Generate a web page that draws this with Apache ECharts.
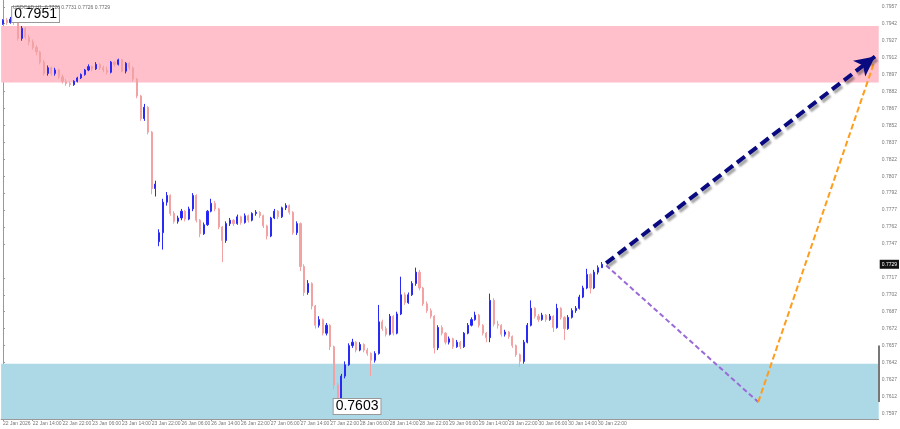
<!DOCTYPE html>
<html><head><meta charset="utf-8">
<script src="https://cdn.jsdelivr.net/npm/echarts@6/dist/echarts.min.js"></script>
<style>html,body{margin:0;padding:0;background:#fff}#c{width:900px;height:429px}</style>
</head><body><div id="c"></div>
<script>
// Hourly bars: [open, high, low, close]
const barsJan22 = [
[0.7942,0.7946,0.7941,0.7945],[0.7945,0.7947,0.7941,0.7943],[0.7943,0.7948,0.7942,0.7946],[0.7946,0.7951,0.7941,0.7944],
[0.7944,0.7945,0.7927,0.7929],[0.7929,0.7940,0.7927,0.7938],[0.7938,0.7939,0.7928,0.7930],[0.7930,0.7932,0.7923,0.7926],
[0.7926,0.7928,0.7919,0.7921],[0.7921,0.7923,0.7914,0.7917],[0.7917,0.7918,0.7906,0.7908],[0.7908,0.7910,0.7896,0.7898],
[0.7898,0.7905,0.7896,0.7903],[0.7903,0.7904,0.7896,0.7898],[0.7898,0.7903,0.7896,0.7901],[0.7901,0.7902,0.7893,0.7895],
[0.7895,0.7897,0.7889,0.7891],[0.7891,0.7893,0.7887,0.7889]];
const barsJan23 = [
[0.7889,0.7891,0.7886,0.7888],[0.7888,0.7892,0.7887,0.7891],[0.7891,0.7895,0.7890,0.7894],[0.7894,0.7898,0.7893,0.7897],
[0.7897,0.7902,0.7896,0.7901],[0.7901,0.7906,0.7900,0.7904],[0.7904,0.7905,0.7900,0.7902],[0.7902,0.7908,0.7901,0.7906],
[0.7906,0.7907,0.7901,0.7903],[0.7903,0.7905,0.7899,0.7901],[0.7901,0.7904,0.7897,0.7899],[0.7899,0.7909,0.7898,0.7908],
[0.7908,0.7909,0.7904,0.7906],[0.7906,0.7911,0.7905,0.7910],[0.7910,0.7911,0.7899,0.7900],[0.7900,0.7908,0.7898,0.7907],
[0.7907,0.7908,0.7901,0.7903],[0.7903,0.7904,0.7891,0.7893],[0.7893,0.7894,0.7876,0.7878],[0.7878,0.7879,0.7856,0.7858],
[0.7858,0.7871,0.7856,0.7868],[0.7868,0.7869,0.7844,0.7846],[0.7846,0.7847,0.7791,0.7796],[0.7796,0.7803,0.7789,0.7800]];
const barsJan26 = [
[0.7749,0.7760,0.7745,0.7757],[0.7757,0.7787,0.7742,0.7784],[0.7784,0.7793,0.7781,0.7790],[0.7790,0.7791,0.7772,0.7774],
[0.7774,0.7776,0.7765,0.7767],[0.7767,0.7772,0.7765,0.7770],[0.7770,0.7778,0.7768,0.7776],[0.7776,0.7777,0.7767,0.7769],
[0.7769,0.7780,0.7768,0.7778],[0.7778,0.7792,0.7776,0.7790],[0.7790,0.7791,0.7766,0.7768],[0.7768,0.7769,0.7753,0.7756],
[0.7756,0.7766,0.7755,0.7764],[0.7764,0.7777,0.7763,0.7776],[0.7776,0.7787,0.7775,0.7783],[0.7783,0.7785,0.7776,0.7778],
[0.7778,0.7779,0.7760,0.7762],[0.7762,0.7763,0.7731,0.7750],[0.7750,0.7767,0.7748,0.7765],[0.7765,0.7770,0.7763,0.7768],
[0.7768,0.7769,0.7763,0.7765],[0.7765,0.7773,0.7764,0.7771],[0.7771,0.7772,0.7764,0.7766],[0.7766,0.7774,0.7765,0.7772]];
const barsJan27 = [
[0.7772,0.7773,0.7766,0.7768],[0.7768,0.7775,0.7767,0.7774],[0.7774,0.7777,0.7772,0.7775],[0.7775,0.7776,0.7770,0.7772],
[0.7772,0.7773,0.7761,0.7763],[0.7763,0.7764,0.7751,0.7754],[0.7754,0.7771,0.7753,0.7770],[0.7770,0.7778,0.7769,0.7776],
[0.7776,0.7777,0.7769,0.7771],[0.7771,0.7780,0.7770,0.7779],[0.7779,0.7783,0.7777,0.7781],[0.7781,0.7782,0.7773,0.7775],
[0.7775,0.7776,0.7755,0.7757],[0.7757,0.7767,0.7755,0.7765],[0.7765,0.7766,0.7723,0.7727],[0.7727,0.7729,0.7701,0.7704],
[0.7704,0.7715,0.7702,0.7712],[0.7712,0.7713,0.7689,0.7692],[0.7692,0.7693,0.7672,0.7675],[0.7675,0.7683,0.7673,0.7680],
[0.7680,0.7681,0.7666,0.7668],[0.7668,0.7677,0.7666,0.7675],[0.7675,0.7676,0.7653,0.7656],[0.7656,0.7657,0.7618,0.7622]];
const barsJan28 = [
[0.7622,0.7624,0.7603,0.7610],[0.7610,0.7632,0.7606,0.7630],[0.7630,0.7643,0.7628,0.7640],[0.7640,0.7659,0.7639,0.7657],
[0.7657,0.7663,0.7655,0.7660],[0.7660,0.7661,0.7651,0.7653],[0.7653,0.7660,0.7652,0.7658],[0.7658,0.7659,0.7651,0.7653],
[0.7653,0.7655,0.7648,0.7650],[0.7650,0.7651,0.7630,0.7644],[0.7644,0.7652,0.7642,0.7650],[0.7650,0.7693,0.7649,0.7678],
[0.7678,0.7680,0.7670,0.7672],[0.7672,0.7674,0.7665,0.7667],[0.7667,0.7685,0.7666,0.7683],[0.7683,0.7684,0.7666,0.7668],
[0.7668,0.7687,0.7667,0.7685],[0.7685,0.7718,0.7684,0.7702],[0.7702,0.7704,0.7693,0.7695],[0.7695,0.7704,0.7694,0.7702],
[0.7702,0.7714,0.7701,0.7712],[0.7712,0.7726,0.7710,0.7722],[0.7722,0.7724,0.7706,0.7708],[0.7708,0.7709,0.7692,0.7694]];
const barsJan29 = [
[0.7694,0.7696,0.7686,0.7688],[0.7688,0.7690,0.7681,0.7683],[0.7683,0.7684,0.7650,0.7655],[0.7655,0.7675,0.7653,0.7673],
[0.7673,0.7675,0.7666,0.7668],[0.7668,0.7669,0.7658,0.7660],[0.7660,0.7665,0.7658,0.7663],[0.7663,0.7664,0.7654,0.7656],
[0.7656,0.7662,0.7655,0.7660],[0.7660,0.7661,0.7654,0.7656],[0.7656,0.7669,0.7655,0.7668],[0.7668,0.7677,0.7667,0.7675],
[0.7675,0.7682,0.7674,0.7680],[0.7680,0.7687,0.7679,0.7684],[0.7684,0.7685,0.7673,0.7675],[0.7675,0.7676,0.7666,0.7668],
[0.7668,0.7669,0.7660,0.7664],[0.7664,0.7703,0.7660,0.7697],[0.7697,0.7699,0.7674,0.7676],[0.7676,0.7679,0.7672,0.7675],
[0.7675,0.7676,0.7665,0.7667],[0.7667,0.7671,0.7665,0.7669],[0.7669,0.7670,0.7663,0.7665],[0.7665,0.7666,0.7655,0.7657]];
const barsJan30 = [
[0.7657,0.7658,0.7647,0.7649],[0.7649,0.7650,0.7638,0.7643],[0.7643,0.7662,0.7641,0.7660],[0.7660,0.7677,0.7659,0.7675],
[0.7675,0.7697,0.7674,0.7690],[0.7690,0.7691,0.7681,0.7683],[0.7683,0.7685,0.7678,0.7680],[0.7680,0.7686,0.7679,0.7684],
[0.7684,0.7685,0.7678,0.7680],[0.7680,0.7685,0.7679,0.7683],[0.7683,0.7684,0.7669,0.7673],[0.7673,0.7694,0.7672,0.7690],
[0.7690,0.7691,0.7680,0.7682],[0.7682,0.7683,0.7662,0.7672],[0.7672,0.7684,0.7671,0.7682],[0.7682,0.7690,0.7681,0.7688],
[0.7688,0.7692,0.7686,0.7690],[0.7690,0.7702,0.7689,0.7700],[0.7700,0.7710,0.7699,0.7708],[0.7708,0.7725,0.7707,0.7720],
[0.7720,0.7721,0.7703,0.7708],[0.7708,0.7724,0.7707,0.7722],[0.7722,0.7728,0.7720,0.7726],[0.7726,0.7731,0.7726,0.7729]];

const xTickLabels = ['22 Jan 2026','22 Jan 14:00','22 Jan 22:00','23 Jan 06:00','23 Jan 14:00','23 Jan 22:00',
 '26 Jan 06:00','26 Jan 14:00','26 Jan 22:00','27 Jan 06:00','27 Jan 14:00','27 Jan 22:00','28 Jan 06:00',
 '28 Jan 14:00','28 Jan 22:00','29 Jan 06:00','29 Jan 14:00','29 Jan 22:00','30 Jan 06:00','30 Jan 14:00','30 Jan 22:00'];
const yTickValues = [0.7957,0.7942,0.7927,0.7912,0.7897,0.7882,0.7867,0.7852,0.7837,0.7822,0.7807,0.7792,0.7777,
 0.7762,0.7747,0.7717,0.7702,0.7687,0.7672,0.7657,0.7642,0.7627,0.7612,0.7597];
const resistanceZone = [0.7940, 0.7890];
const supportZone = [0.7641, 0.7592];
const highLabel = {bar: 3, price: 0.7951};
const lowLabel = {bar: 90, price: 0.7603};
const lastPrice = 0.7729;
const scaleMarker = [0.7657, 0.7607];
const header = 'USDCAD,H1  0.7726 0.7731 0.7726 0.7729';
// forecast paths [barIndex, price]
const mainForecast = [[162.2, 0.7730], [234.5, 0.7913]];
const altDown = [[162.2, 0.7728], [203.1, 0.7607]];
const altUp = [[203.1, 0.7607], [234.2, 0.7907]];
const slotCount = 236;

const bars = [].concat(barsJan22, barsJan23, barsJan26, barsJan27, barsJan28, barsJan29, barsJan30);
const candleData = bars.map(b => [b[0], b[3], b[2], b[1]]);
const cats = Array.from({length: slotCount}, (_, i) => String(i));
const showTick = i => i % 8 === 0 && i / 8 < xTickLabels.length;
const FONT = 'Liberation Sans';

const chart = echarts.init(document.getElementById('c'), null, {renderer: 'canvas'});
chart.setOption({
  animation: false,
  backgroundColor: '#fff',
  title: {text: header, left: 8, top: 0, textStyle: {fontSize: 5, color: '#666', fontWeight: 'normal', fontFamily: FONT}},
  grid: {left: 0, right: 16, top: 0, bottom: 10, containLabel: false},
  xAxis: [{
    type: 'category', data: cats, boundaryGap: true,
    axisLine: {lineStyle: {color: '#999', width: 1}},
    axisTick: {show: true, interval: showTick, alignWithLabel: true, length: 2, lineStyle: {color: '#999'}},
    axisLabel: {interval: showTick, formatter: (v, i) => xTickLabels[i / 8] || '', align: 'left',
      fontSize: 5, color: '#777', margin: 2, fontFamily: FONT, hideOverlap: false},
    splitLine: {show: false}
  }, {
    type: 'value', min: -0.5, max: slotCount - 0.5, show: false
  }],
  yAxis: {
    type: 'value', position: 'right', min: 0.7592, max: 0.7963, scale: true,
    axisLine: {show: true, lineStyle: {color: '#999'}},
    axisTick: {show: true, customValues: yTickValues, length: 2, lineStyle: {color: '#999'}},
    axisLabel: {customValues: yTickValues, formatter: v => v.toFixed(4), fontSize: 5, color: '#777', margin: 3, fontFamily: FONT},
    splitLine: {show: false}
  },
  series: [
    {
      type: 'line', xAxisIndex: 1, data: [], z: 1, silent: true,
      markArea: {silent: true, data: [
        [{yAxis: resistanceZone[0], itemStyle: {color: '#ffc0cb'}}, {yAxis: resistanceZone[1]}],
        [{yAxis: supportZone[0], itemStyle: {color: '#add8e6'}}, {yAxis: supportZone[1]}]
      ]}
    },
    {
      type: 'candlestick', data: candleData, barWidth: 1.6, z: 3,
      itemStyle: {color: '#1e1eff', color0: '#f4a3a3', borderColor: '#2a2af5', borderColor0: '#f2a2a2', borderWidth: 1},
      markPoint: {
        symbol: 'circle', symbolSize: 0, silent: true,
        data: [
          {coord: [highLabel.bar, highLabel.price], label: {formatter: highLabel.price.toFixed(4), offset: [-2, 1]}},
          {coord: [lowLabel.bar, lowLabel.price], label: {formatter: lowLabel.price.toFixed(4), offset: [-4, 0]}}
        ],
        label: {show: true, position: 'right', distance: 0, fontSize: 14, color: '#000', fontFamily: FONT,
          backgroundColor: '#fff', borderColor: '#999', borderWidth: 1, padding: [1, 2, 0, 2]}
      }
    },
    {
      type: 'line', xAxisIndex: 1, data: [], z: 5, silent: true,
      markLine: {
        silent: true, animation: false,
        label: {show: false},
        symbol: ['none', 'none'],
        data: [
          [{coord: altDown[0], lineStyle: {color: '#9a6ad6', width: 2, type: [5, 3]}}, {coord: altDown[1]}],
          [{coord: altUp[0], lineStyle: {color: '#ff9c1a', width: 2, type: [6, 3]}}, {coord: altUp[1]}],
          [{coord: mainForecast[0], symbol: 'none', lineStyle: {color: '#0a0a80', width: 4, type: [10, 5],
             shadowColor: 'rgba(0,0,0,0.35)', shadowBlur: 2, shadowOffsetX: 2, shadowOffsetY: 3}},
           {coord: mainForecast[1], symbol: 'arrow', symbolSize: [15, 20], itemStyle: {color: '#0a0a80'}}],
          [{coord: [slotCount - 0.5, scaleMarker[0]], lineStyle: {color: '#777', width: 2, type: 'solid'}},
           {coord: [slotCount - 0.5, scaleMarker[1]]}],
          [{coord: [-0.5, lastPrice], lineStyle: {color: 'rgba(0,0,0,0)', width: 0},
             label: {show: true, position: 'end', distance: 1, formatter: lastPrice.toFixed(4), fontSize: 5,
               color: '#fff', backgroundColor: '#111', padding: [2, 2], fontFamily: FONT}},
           {coord: [slotCount - 0.5, lastPrice]}]
        ]
      }
    }
  ]
});
</script></body></html>
